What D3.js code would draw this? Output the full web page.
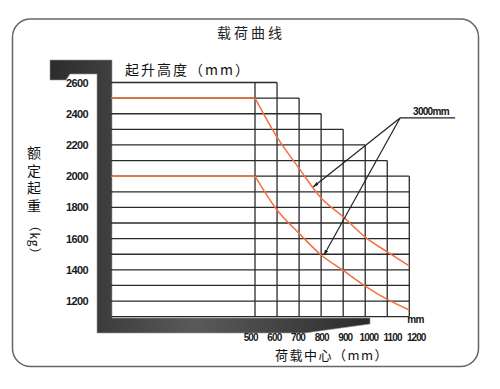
<!DOCTYPE html>
<html>
<head>
<meta charset="utf-8">
<script src="https://cdn.jsdelivr.net/npm/d3@7"></script>
<style>
  body { margin: 0; background: #fff; }
</style>
</head>
<body>
<div id="chart"></div>
<script>
// load centre (mm) columns and rated load (kg) rows
const centers   = [500, 600, 700, 800, 900, 1000, 1100, 1200];
const loadTicks = [2600, 2400, 2200, 2000, 1800, 1600, 1400, 1200];
const gridLoads = [2600, 2500, 2400, 2300, 2200, 2100, 2000, 1900, 1800, 1700, 1600, 1500, 1400, 1300, 1200, 1100];
// how far right each grid row reaches (staircase)
const gridReach = [600, 700, 800, 900, 1000, 1100, 1200, 1200, 1200, 1200, 1200, 1200, 1200, 1200, 1200, 1200];

// capacity curves
const curveA = [2500, 2250, 2050, 1860, 1740, 1610, 1515, 1425];
const curveB = [2000, 1783, 1634, 1495, 1396, 1296, 1211, 1143];

// "3000mm" callout: anchor and the two points it points at
const calloutLabel = "3000mm";
const calloutAnchor = { c: 1158, q: 2373 };
const calloutEnd = 1408;
const calloutTargets = [{ c: 765, q: 1932 }, { c: 813, q: 1495 }];

const W = 500, H = 389;
const plotLeft = 111;
const orange = "#f2713d";
const cjk = "'Noto Sans CJK SC', sans-serif";
const num = "'Liberation Sans', Arial, sans-serif";

const svg = d3.select("#chart").append("svg")
  .attr("width", W)
  .attr("height", H);

const x = d3.scaleLinear().domain([500, 1200]).range([255, 409.3]);
const y = d3.scaleLinear().domain([1100, 2600]).range([316.7, 82.5]);

const defs = svg.append("defs");
const grad = defs.append("linearGradient").attr("id", "bar");
grad.append("stop").attr("offset", "0%").attr("stop-color", "#2c2c2c");
grad.append("stop").attr("offset", "45%").attr("stop-color", "#5a5a5a");
grad.append("stop").attr("offset", "100%").attr("stop-color", "#2c2c2c");
defs.append("marker")
  .attr("id", "arr")
  .attr("viewBox", "0 0 10 10")
  .attr("refX", 9).attr("refY", 5)
  .attr("markerWidth", 5).attr("markerHeight", 5)
  .attr("orient", "auto")
  .append("path").attr("d", "M0,2 L10,5 L0,8 z").attr("fill", "#222");

// outer rounded frame
svg.append("rect")
  .attr("x", 12.5).attr("y", 19)
  .attr("width", 466).attr("height", 347.5)
  .attr("rx", 18)
  .attr("fill", "none")
  .attr("stroke", "#666")
  .attr("stroke-width", 1.5);

// title
svg.append("text")
  .attr("x", 251).attr("y", 38)
  .attr("text-anchor", "middle")
  .style("font-family", cjk)
  .style("font-size", "14px")
  .style("letter-spacing", "3px")
  .attr("fill", "#222")
  .text("载荷曲线");

// dark L-shaped mast / fork outline
svg.append("path")
  .attr("d", "M50,60 L112,60 L112,318 L370,318 L370,324 L305,333 L97,333 L97,74 L70,74 L66,80 L50,80 Z")
  .attr("fill", "url(#bar)")
  .attr("stroke", "#999")
  .attr("stroke-width", 0.6);

// grid rows
const rows = gridLoads.map((q, i) => ({ q, reach: gridReach[i] }));
svg.append("g").selectAll("line")
  .data(rows)
  .join("line")
  .attr("x1", plotLeft)
  .attr("x2", d => x(d.reach))
  .attr("y1", d => y(d.q))
  .attr("y2", d => y(d.q))
  .attr("stroke", "#2a2a2a")
  .attr("stroke-width", 1.3);

// grid columns
const cols = centers.map(c => ({ c, top: d3.max(rows.filter(r => r.reach >= c), r => r.q) }));
svg.append("g").selectAll("line")
  .data(cols)
  .join("line")
  .attr("x1", d => x(d.c))
  .attr("x2", d => x(d.c))
  .attr("y1", d => y(d.top))
  .attr("y2", y(1100))
  .attr("stroke", "#2a2a2a")
  .attr("stroke-width", 1.3);

// capacity curves
const line = d3.line()
  .x(d => x(d.c))
  .y(d => y(d.q))
  .curve(d3.curveMonotoneX);

[curveA, curveB].forEach(vals => {
  const pts = centers.map((c, i) => ({ c, q: vals[i] }));
  svg.append("line")
    .attr("x1", plotLeft).attr("x2", x(500))
    .attr("y1", y(vals[0])).attr("y2", y(vals[0]))
    .attr("stroke", orange)
    .attr("stroke-width", 1.5);
  svg.append("path")
    .datum(pts)
    .attr("d", line)
    .attr("fill", "none")
    .attr("stroke", orange)
    .attr("stroke-width", 1.5);
});

// callout
svg.append("line")
  .attr("x1", x(calloutAnchor.c)).attr("x2", x(calloutEnd))
  .attr("y1", y(calloutAnchor.q)).attr("y2", y(calloutAnchor.q))
  .attr("stroke", "#222").attr("stroke-width", 1.2);
svg.append("g").selectAll("line")
  .data(calloutTargets)
  .join("line")
  .attr("x1", x(calloutAnchor.c))
  .attr("y1", y(calloutAnchor.q))
  .attr("x2", d => x(d.c))
  .attr("y2", d => y(d.q))
  .attr("stroke", "#222")
  .attr("stroke-width", 1.2)
  .attr("marker-end", "url(#arr)");
svg.append("text")
  .attr("x", x(calloutAnchor.c) + 13)
  .attr("y", y(calloutAnchor.q) - 3)
  .style("font-family", num)
  .style("font-size", "10px")
  .style("font-weight", "bold")
  .style("letter-spacing", "-0.7px")
  .attr("fill", "#111")
  .text(calloutLabel);

// Y axis (rated load)
svg.append("g")
  .attr("transform", "translate(88,0)")
  .call(d3.axisLeft(y).tickValues(loadTicks).tickSize(0).tickPadding(0).tickFormat(d3.format("d")))
  .call(g => g.select(".domain").remove())
  .selectAll("text")
  .style("font-family", num)
  .style("font-size", "11px")
  .style("font-weight", "bold")
  .style("letter-spacing", "-0.6px")
  .attr("fill", "#1a1a1a");

// X axis (load centre)
svg.append("g")
  .attr("transform", "translate(0,334)")
  .call(d3.axisBottom(x).tickValues(centers).tickSize(0).tickPadding(0).tickFormat(d3.format("d")))
  .call(g => g.select(".domain").remove())
  .selectAll("text")
  .attr("dx", d => (d - 800) * 0.016)
  .style("font-family", num)
  .style("font-size", "10px")
  .style("font-weight", "bold")
  .style("letter-spacing", "-0.9px")
  .attr("fill", "#1a1a1a");

svg.append("text")
  .attr("x", x(1200) - 2).attr("y", 323)
  .style("font-family", num)
  .style("font-size", "10px")
  .style("font-weight", "bold")
  .style("letter-spacing", "-0.7px")
  .attr("fill", "#111")
  .text("mm");

// axis titles
svg.append("text")
  .attr("x", 125).attr("y", 75)
  .style("font-family", cjk)
  .style("font-size", "14px")
  .style("letter-spacing", "2px")
  .attr("fill", "#111")
  .text("起升高度（mm）");

svg.append("text")
  .attr("x", 332).attr("y", 360)
  .attr("text-anchor", "middle")
  .style("font-family", cjk)
  .style("font-size", "13px")
  .style("letter-spacing", "1.5px")
  .attr("fill", "#111")
  .text("荷载中心（mm）");

// vertical y title: CJK upright, unit turned sideways
svg.append("text")
  .attr("x", 34).attr("y", 146)
  .style("writing-mode", "vertical-rl")
  .style("font-family", cjk)
  .style("font-size", "14px")
  .style("letter-spacing", "3.5px")
  .attr("fill", "#111")
  .text("额定起重");

svg.append("text")
  .attr("transform", "translate(29.5,240) rotate(90)")
  .attr("text-anchor", "middle")
  .style("font-family", cjk)
  .style("font-size", "12px")
  .style("letter-spacing", "1px")
  .attr("fill", "#111")
  .text("（kg）");
</script>
</body>
</html>
